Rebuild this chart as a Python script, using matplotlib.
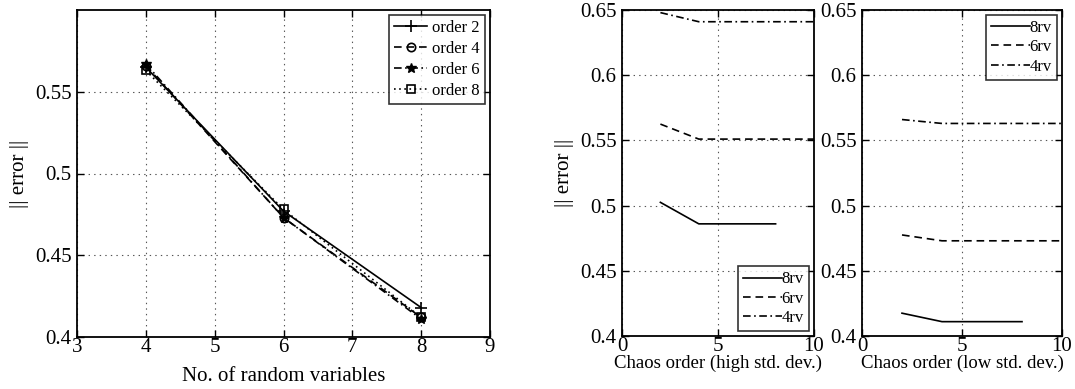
import numpy as np
import matplotlib
matplotlib.use("Agg")
import matplotlib.pyplot as plt

plt.rcParams["font.family"] = ["Liberation Serif", "DejaVu Serif"]
plt.rcParams["mathtext.fontset"] = "stix"
# MATLAB-ish dash patterns, in points
plt.rcParams["lines.scale_dashes"] = False
plt.rcParams["lines.dashed_pattern"] = [5.5, 3.5]
plt.rcParams["lines.dashdot_pattern"] = [5.5, 2.5, 1.2, 2.5]
plt.rcParams["lines.dotted_pattern"] = [1.2, 2.5]

# left panel: error vs number of random variables
n_rv = [4, 6, 8]
order_labels = ["order 2", "order 4", "order 6", "order 8"]
err_order2 = [0.565, 0.477, 0.418]
err_order4 = [0.566, 0.473, 0.412]
err_order6 = [0.567, 0.473, 0.411]
err_order8 = [0.563, 0.478, 0.412]

# right panels: error vs chaos order
chaos_8rv = [2, 4, 6, 8]
chaos_long = [2, 4, 6, 8, 10]
high_8rv = [0.5025, 0.486, 0.486, 0.486]
high_6rv = [0.5625, 0.551, 0.551, 0.551, 0.551]
high_4rv = [0.648, 0.641, 0.641, 0.641, 0.641]
low_8rv = [0.4175, 0.411, 0.411, 0.411]
low_6rv = [0.4775, 0.473, 0.473, 0.473, 0.473]
low_4rv = [0.566, 0.563, 0.563, 0.563, 0.563]
rv_labels = ["8rv", "6rv", "4rv"]

TICK_FS = 15
LAB_FS = 15
LEG_FS = 12


def style_axes(ax):
    ax.tick_params(direction="in", top=True, right=True, labelsize=TICK_FS,
                   length=5, width=1.0)
    ax.tick_params(axis="x", pad=1)
    ax.tick_params(axis="y", pad=4)
    ax.grid(True, ls=(0, (1, 3)), color="#555555", lw=0.8)
    for s in ax.spines.values():
        s.set_linewidth(1.3)


fig = plt.figure(figsize=(10.75, 3.89), dpi=100)

ax1 = fig.add_axes([77 / 1075, 1 - 337 / 389, 413 / 1075, 327 / 389])
ax1.plot(n_rv, err_order2, "k-", marker="+", ms=8, mew=1.2, lw=1.2,
         label=order_labels[0])
ax1.plot(n_rv, err_order4, "k--", marker="o", ms=6, mfc="none", mew=1.2,
         lw=1.2, label=order_labels[1])
ax1.plot(n_rv, err_order6, "k-.", marker="*", ms=7, mew=1.0, lw=1.2,
         label=order_labels[2])
ax1.plot(n_rv, err_order8, "k:", marker="s", ms=6, mfc="none", mew=1.2,
         lw=1.2, label=order_labels[3])
ax1.set_xlim(3, 9)
ax1.set_ylim(0.4, 0.6)
ax1.set_xticks(range(3, 10))
ax1.set_yticks([0.4, 0.45, 0.5, 0.55])
ax1.set_yticklabels(["0.4", "0.45", "0.5", "0.55"])
ax1.set_xlabel("No. of random variables", fontsize=LAB_FS, labelpad=7)
ax1.set_ylabel("|| error ||", fontsize=LAB_FS)
style_axes(ax1)
leg = ax1.legend(loc="upper right", fontsize=LEG_FS, fancybox=False,
                 edgecolor="black", handlelength=2.0, borderaxespad=0.3,
                 handletextpad=0.3, labelspacing=0.3, borderpad=0.3)
leg.get_frame().set_linewidth(1.2)

yt = [0.4, 0.45, 0.5, 0.55, 0.6, 0.65]
ytl = ["0.4", "0.45", "0.5", "0.55", "0.6", "0.65"]

ax2 = fig.add_axes([622 / 1075, 1 - 336 / 389, 192 / 1075, 326 / 389])
ax2.plot(chaos_8rv, high_8rv, "k-", lw=1.2, label=rv_labels[0])
ax2.plot(chaos_long, high_6rv, "k--", lw=1.2, label=rv_labels[1])
ax2.plot(chaos_long, high_4rv, "k-.", lw=1.2, label=rv_labels[2])
ax2.set_xlim(0, 10)
ax2.set_ylim(0.4, 0.65)
ax2.set_xticks([0, 5, 10])
ax2.set_yticks(yt)
ax2.set_yticklabels(ytl)
ax2.set_xlabel("Chaos order (high std. dev.)", fontsize=13.5, labelpad=-1)
ax2.set_ylabel("|| error ||", fontsize=LAB_FS)
style_axes(ax2)
leg = ax2.legend(loc="lower right", fontsize=LEG_FS, fancybox=False,
                 edgecolor="black", handlelength=2.3, borderaxespad=0.3,
                 handletextpad=0.0, labelspacing=0.2, borderpad=0.3)
leg.get_frame().set_linewidth(1.2)

ax3 = fig.add_axes([862 / 1075, 1 - 336 / 389, 200 / 1075, 326 / 389])
ax3.plot(chaos_8rv, low_8rv, "k-", lw=1.2, label=rv_labels[0])
ax3.plot(chaos_long, low_6rv, "k--", lw=1.2, label=rv_labels[1])
ax3.plot(chaos_long, low_4rv, "k-.", lw=1.2, label=rv_labels[2])
ax3.set_xlim(0, 10)
ax3.set_ylim(0.4, 0.65)
ax3.set_xticks([0, 5, 10])
ax3.set_yticks(yt)
ax3.set_yticklabels(ytl)
ax3.set_xlabel("Chaos order (low std. dev.)", fontsize=13.5, labelpad=-1)
style_axes(ax3)
leg = ax3.legend(loc="upper right", fontsize=LEG_FS, fancybox=False,
                 edgecolor="black", handlelength=2.3, borderaxespad=0.3,
                 handletextpad=0.0, labelspacing=0.2, borderpad=0.3)
leg.get_frame().set_linewidth(1.2)

fig.savefig("out.png", dpi=100)
